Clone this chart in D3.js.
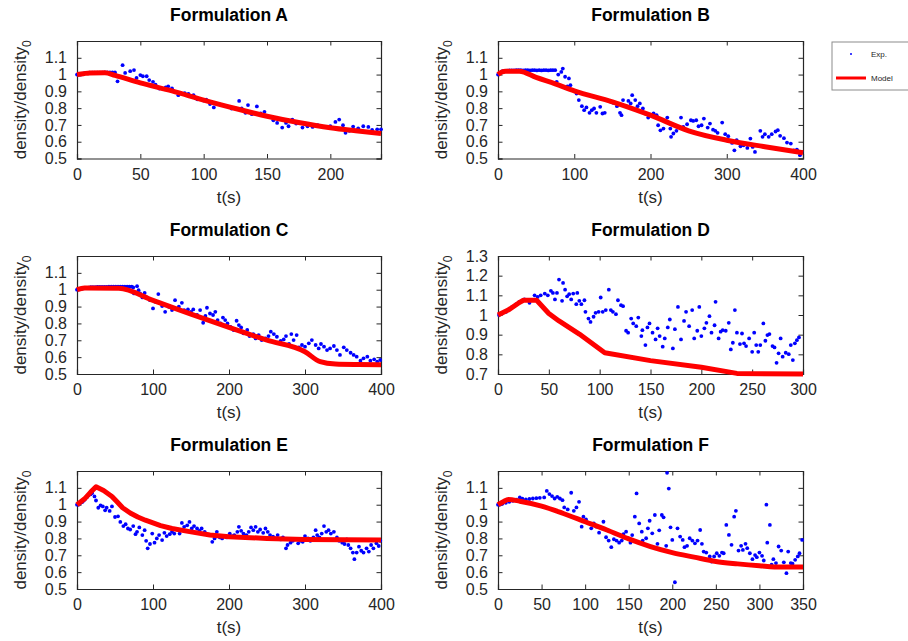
<!DOCTYPE html>
<html>
<head>
<meta charset="utf-8">
<script src="https://cdn.jsdelivr.net/npm/d3@7"></script>
<style>
  body { margin: 0; background: #fff; }
  svg { display: block; font-family: "Liberation Sans", Arial, sans-serif; }
</style>
</head>
<body>
<script>
// ---- data: [t (s), density/density0] ----
var modelA = [[0,1.0],[5,1.005],[10,1.01],[22,1.011],[30,0.995],[50,0.95],[75,0.903],[100,0.848],[125,0.798],[150,0.752],[175,0.714],[200,0.683],[220,0.665],[240,0.649]];
var expA = [[0,1.0],[1,1.0],[2,1.0],[3,1.0],[4,1.003],[5,1.005],[6,1.008],[8,1.01],[10,1.012],[12,1.012],[14,1.012],[16,1.012],[18,1.012],[20,1.012],[22,1.013],[24,1.013],[26,1.013],[28,1.013],[30,1.013],
  [32,0.96],[36,1.056],[38,1.01],[42,1.02],[45,1.027],[47,0.98],[50,0.997],[52,0.99],[55,0.99],[57,0.967],[60,0.957],[62,0.94],[65,0.917],[70,0.923],[72,0.93],[75,0.917],
  [80,0.877],[82,0.89],[85,0.89],[88,0.885],[92,0.877],[95,0.853],[100,0.845],[102,0.85],[105,0.824],[108,0.804],[112,0.824],[118,0.812],[122,0.798],[128,0.843],[130,0.798],
  [133,0.772],[135,0.818],[138,0.764],[142,0.81],[145,0.768],[148,0.778],[152,0.748],[155,0.728],[158,0.712],[162,0.684],[165,0.712],[167,0.692],[170,0.732],[173,0.708],
  [178,0.684],[182,0.692],[186,0.688],[190,0.698],[195,0.688],[200,0.692],[204,0.718],[207,0.732],[210,0.698],[212,0.653],[215,0.665],[218,0.69],[222,0.68],[226,0.692],
  [230,0.688],[233,0.67],[237,0.674],[240,0.674]];

var modelB = [[0,1.0],[5,1.015],[10,1.02],[28,1.02],[50,0.983],[75,0.945],[100,0.903],[150,0.838],[200,0.758],[250,0.665],[300,0.609],[350,0.57],[400,0.534]];
var expB = [[0,1.0],[3,1.01],[6,1.02],[9,1.022],[12,1.024],[15,1.025],[18,1.025],[21,1.025],[24,1.026],[27,1.026],[30,1.026],[33,1.025],[36,1.026],[39,1.026],[42,1.025],[45,1.026],[48,1.026],[51,1.025],[54,1.026],[57,1.025],[60,1.026],[63,1.026],[66,1.025],[69,1.026],[72,1.026],[75,1.026],
  [77,0.957],[79,1.0],[83,1.016],[85,1.036],[88,0.987],[91,0.93],[93,0.977],[95,0.937],[98,0.907],[103,0.887],[106,0.848],[110,0.812],[113,0.788],[116,0.804],[120,0.772],
  [123,0.788],[126,0.798],[129,0.772],[134,0.808],[137,0.768],[140,0.772],[148,0.838],[151,0.832],[156,0.812],[160,0.772],[162,0.758],[164,0.848],[168,0.812],[171,0.843],
  [174,0.828],[176,0.877],[180,0.848],[183,0.812],[186,0.828],[190,0.798],[193,0.768],[197,0.744],[204,0.768],[208,0.758],[210,0.698],[213,0.668],[217,0.678],[222,0.744],
  [226,0.678],[227,0.629],[230,0.649],[234,0.665],[240,0.744],[243,0.688],[248,0.704],[253,0.728],[256,0.724],[260,0.728],[263,0.692],[267,0.698],[270,0.738],[275,0.684],
  [278,0.708],[282,0.672],[285,0.665],[288,0.653],[294,0.714],[298,0.645],[302,0.633],[307,0.593],[310,0.549],[313,0.609],[318,0.573],[322,0.579],[327,0.563],[331,0.619],
  [334,0.569],[337,0.539],[344,0.665],[347,0.629],[350,0.645],[355,0.629],[359,0.645],[364,0.661],[367,0.669],[370,0.635],[375,0.621],[379,0.595],[384,0.589],[388,0.549],
  [392,0.553],[396,0.52],[398,0.539]];

var modelC = [[0,1.0],[10,1.01],[55,1.009],[100,0.937],[150,0.855],[200,0.776],[250,0.701],[300,0.632],[320,0.573],[340,0.559],[370,0.556],[400,0.555]];
var expC = [[0,1.0],[3,1.002],[6,1.005],[9,1.008],[12,1.01],[15,1.012],[18,1.015],[21,1.015],[24,1.015],[27,1.016],[30,1.016],[33,1.017],[36,1.017],[39,1.017],[42,1.018],[45,1.018],[48,1.018],[51,1.018],[54,1.018],[57,1.018],[60,1.018],[63,1.018],[66,1.018],[69,1.018],[72,1.018],
  [74,1.013],[75,0.978],[79,1.021],[81,0.997],[83,0.978],[86,0.954],[89,0.981],[92,0.954],[96,0.938],[100,0.889],[103,0.928],[107,0.974],[112,0.903],[116,0.869],[121,0.899],
  [125,0.879],[129,0.938],[134,0.899],[138,0.922],[141,0.879],[146,0.883],[150,0.869],[153,0.883],[158,0.85],[162,0.879],[166,0.804],[169,0.844],[171,0.893],[175,0.859],
  [179,0.85],[182,0.869],[185,0.82],[189,0.8],[192,0.835],[195,0.82],[198,0.8],[202,0.78],[206,0.761],[210,0.816],[213,0.79],[216,0.776],[219,0.741],[224,0.761],[227,0.725],
  [232,0.737],[235,0.711],[239,0.731],[243,0.701],[248,0.711],[252,0.725],[255,0.751],[259,0.737],[263,0.721],[268,0.697],[272,0.705],[275,0.725],[279,0.678],[282,0.737],
  [285,0.701],[289,0.731],[292,0.658],[296,0.672],[300,0.662],[305,0.682],[309,0.701],[314,0.672],[318,0.652],[321,0.678],[325,0.662],[329,0.642],[333,0.652],[338,0.666],
  [342,0.642],[346,0.613],[351,0.658],[355,0.642],[360,0.626],[364,0.613],[368,0.603],[373,0.579],[377,0.593],[382,0.603],[386,0.579],[391,0.587],[395,0.573],[399,0.583]];

var modelD = [[0,1.0],[10,1.025],[20,1.06],[25,1.075],[38,1.075],[50,1.008],[60,0.97],[80,0.903],[105,0.808],[150,0.768],[200,0.734],[235,0.703],[300,0.7]];
var expD = [[1,1.0],[4,1.008],[8,1.016],[11,1.028],[14,1.041],[18,1.055],[21,1.067],[26,1.079],[31,1.062],[36,1.1],[39,1.092],[42,1.1],[46,1.109],[49,1.1],[52,1.123],[54,1.112],
  [56,1.079],[58,1.112],[60,1.18],[63,1.072],[64,1.163],[66,1.129],[68,1.095],[70,1.106],[72,1.079],[74,1.109],[77,1.055],[78,1.112],[80,1.072],[82,1.055],[85,1.075],
  [86,1.016],[89,0.982],[91,0.965],[94,0.991],[96,1.011],[99,1.016],[101,1.089],[103,1.016],[106,1.025],[109,1.129],[111,1.025],[113,1.016],[116,1.004],[118,1.075],
  [121,1.05],[123,1.045],[126,0.92],[128,0.91],[131,0.982],[133,0.957],[136,0.943],[138,0.987],[141,0.893],[142,0.923],[145,0.847],[147,0.937],[149,0.957],[152,0.91],
  [155,0.876],[157,0.932],[159,0.893],[162,0.839],[164,0.881],[167,0.937],[169,0.977],[172,0.83],[174,0.928],[177,1.041],[180,0.876],[183,0.97],[185,1.016],[188,0.943],
  [191,1.025],[193,0.881],[196,0.92],[198,1.041],[200,0.893],[203,0.932],[205,0.96],[208,0.994],[210,0.91],[213,0.948],[214,1.067],[217,0.881],[219,0.915],[221,0.923],
  [224,0.92],[227,0.96],[229,0.825],[231,0.859],[233,1.025],[235,0.91],[238,0.852],[240,0.906],[242,0.856],[244,0.842],[247,0.881],[250,0.813],[252,0.91],[254,0.847],
  [256,0.813],[258,0.847],[261,0.957],[263,0.869],[265,0.898],[267,0.903],[270,0.842],[272,0.835],[274,0.757],[276,0.805],[278,0.881],[280,0.788],[283,0.808],[286,0.801],
  [288,0.847],[290,0.771],[292,0.856],[294,0.872],[296,0.886]];

var modelE = [[0,1.0],[10,1.035],[18,1.075],[25,1.106],[35,1.084],[46,1.049],[53,1.016],[60,0.982],[70,0.951],[80,0.927],[90,0.908],[100,0.892],[110,0.876],[125,0.859],[150,0.839],[175,0.82],[200,0.81],[250,0.8],[300,0.794],[400,0.79]];
var expE = [[0,1.0],[2,1.0],[4,1.008],[7,1.016],[9,1.025],[11,1.035],[13,1.045],[15,1.055],[18,1.062],[20,1.069],[23,1.049],[25,1.025],[28,0.982],[31,0.996],[34,0.99],[37,0.967],
  [39,0.982],[43,0.963],[46,0.99],[50,0.927],[54,0.931],[57,0.898],[61,0.873],[64,0.884],[67,0.859],[70,0.853],[74,0.873],[77,0.825],[79,0.839],[82,0.865],[86,0.82],
  [89,0.849],[91,0.786],[93,0.741],[96,0.767],[99,0.829],[102,0.775],[105,0.8],[108,0.82],[112,0.79],[115,0.833],[118,0.814],[122,0.825],[125,0.839],[128,0.829],[132,0.853],
  [135,0.829],[138,0.892],[141,0.869],[145,0.878],[148,0.898],[151,0.859],[154,0.873],[158,0.859],[161,0.845],[164,0.859],[168,0.839],[171,0.825],[175,0.82],[178,0.78],
  [181,0.8],[184,0.839],[188,0.806],[191,0.8],[194,0.814],[197,0.806],[201,0.829],[204,0.814],[207,0.82],[211,0.839],[213,0.869],[216,0.845],[219,0.829],[223,0.82],
  [226,0.839],[229,0.865],[232,0.849],[235,0.869],[238,0.839],[241,0.853],[245,0.833],[248,0.859],[251,0.839],[254,0.82],[258,0.81],[261,0.8],[264,0.82],[268,0.794],
  [271,0.806],[275,0.741],[277,0.761],[281,0.775],[284,0.786],[287,0.794],[291,0.771],[294,0.786],[297,0.78],[300,0.814],[304,0.8],[307,0.786],[311,0.806],[314,0.849],
  [316,0.82],[319,0.806],[322,0.829],[325,0.873],[328,0.839],[331,0.849],[334,0.829],[338,0.839],[342,0.806],[345,0.786],[349,0.775],[352,0.767],[355,0.794],[357,0.761],
  [360,0.741],[363,0.716],[365,0.677],[368,0.716],[371,0.751],[374,0.727],[377,0.716],[381,0.741],[384,0.722],[387,0.761],[390,0.741],[394,0.771],[397,0.755],[399,0.786]];

var modelF = [[0,1.0],[6,1.018],[12,1.031],[25,1.021],[50,0.992],[75,0.948],[100,0.899],[125,0.85],[150,0.797],[175,0.752],[200,0.716],[225,0.689],[250,0.663],[275,0.649],[300,0.638],[325,0.63],[350,0.63]];
var expF = [[0,1.0],[2,1.0],[5,1.005],[9,1.011],[13,1.017],[17,1.023],[21,1.03],[25,1.043],[28,1.036],[32,1.031],[36,1.034],[40,1.037],[44,1.039],[48,1.041],[53,1.043],
  [56,1.082],[59,1.063],[62,1.051],[65,1.037],[68,1.047],[71,1.037],[74,1.027],[76,0.984],[80,0.972],[84,1.071],[87,0.964],[90,0.984],[93,1.017],[96,0.87],[98,0.929],
  [101,0.913],[104,0.893],[107,0.86],[110,0.889],[113,0.87],[116,0.834],[119,0.86],[121,0.899],[124,0.807],[127,0.787],[130,0.748],[133,0.795],[136,0.787],[139,0.775],
  [142,0.787],[144,0.826],[147,0.84],[149,0.801],[152,0.775],[154,0.82],[157,0.929],[159,1.067],[162,0.889],[165,0.84],[166,0.787],[170,0.801],[172,0.86],[174,0.905],
  [177,0.83],[180,0.939],[183,0.768],[185,0.848],[188,0.939],[190,0.925],[193,0.756],[194,1.189],[196,1.096],[198,0.866],[200,0.791],[203,0.54],[206,0.86],[209,0.811],
  [212,0.791],[214,0.748],[217,0.756],[220,0.801],[223,0.787],[226,0.771],[229,0.787],[232,0.85],[234,0.768],[236,0.722],[239,0.716],[243,0.693],[245,0.663],[248,0.693],
  [251,0.712],[254,0.697],[257,0.716],[259,0.712],[262,0.88],[265,0.821],[268,0.762],[271,0.929],[273,0.964],[276,0.728],[279,0.756],[281,0.732],[284,0.768],[286,0.742],
  [289,0.712],[292,0.677],[295,0.701],[297,0.689],[300,0.716],[303,0.697],[305,0.669],[308,1.0],[309,0.775],[312,0.88],[314,0.644],[316,0.677],[319,0.654],[322,0.752],
  [325,0.728],[328,0.658],[331,0.594],[333,0.722],[336,0.654],[338,0.65],[341,0.673],[344,0.693],[346,0.712],[349,0.791]];

// tick labels
var yTicksStd = [0.5, 0.6, 0.7, 0.8, 0.9, 1.0, 1.1];
var yTicksD = [0.7, 0.8, 0.9, 1.0, 1.1, 1.2, 1.3];
var xTicks240 = [0, 50, 100, 150, 200];
var xTicks400 = [0, 100, 200, 300, 400];
var xTicks300 = [0, 50, 100, 150, 200, 250, 300];
var xTicks350 = [0, 50, 100, 150, 200, 250, 300, 350];
var titles = ["Formulation A", "Formulation B", "Formulation C", "Formulation D", "Formulation E", "Formulation F"];
var legendLabels = ["Exp.", "Model"];

var panels = [
  {title: titles[0], col: 0, row: 0, xMax: 240, xTicks: xTicks240, yDom: [0.5, 1.2], yTicks: yTicksStd, exp: expA, model: modelA, curve: d3.curveMonotoneX},
  {title: titles[1], col: 1, row: 0, xMax: 400, xTicks: xTicks400, yDom: [0.5, 1.2], yTicks: yTicksStd, exp: expB, model: modelB, curve: d3.curveMonotoneX},
  {title: titles[2], col: 0, row: 1, xMax: 400, xTicks: xTicks400, yDom: [0.5, 1.2], yTicks: yTicksStd, exp: expC, model: modelC, curve: d3.curveMonotoneX},
  {title: titles[3], col: 1, row: 1, xMax: 300, xTicks: xTicks300, yDom: [0.7, 1.3], yTicks: yTicksD, exp: expD, model: modelD, curve: d3.curveLinear},
  {title: titles[4], col: 0, row: 2, xMax: 400, xTicks: xTicks400, yDom: [0.5, 1.2], yTicks: yTicksStd, exp: expE, model: modelE, curve: d3.curveLinear},
  {title: titles[5], col: 1, row: 2, xMax: 350, xTicks: xTicks350, yDom: [0.5, 1.2], yTicks: yTicksStd, exp: expF, model: modelF, curve: d3.curveMonotoneX}
];

var cols = [{l: 77, r: 381}, {l: 498, r: 803}];
var rows = [{t: 41, b: 158.5}, {t: 256, b: 374}, {t: 471, b: 589}];
var axisColor = "#262626";

var svg = d3.select("body").append("svg").attr("width", 908).attr("height", 641);

var fmt = function(d) { return d3.format("~g")(+d.toFixed(2)); };

panels.forEach(function(p) {
  var c = cols[p.col], r = rows[p.row];
  var x = d3.scaleLinear().domain([0, p.xMax]).range([c.l, c.r]);
  var y = d3.scaleLinear().domain(p.yDom).range([r.b, r.t]);
  var g = svg.append("g");

  // box background
  g.append("rect").attr("x", c.l).attr("y", r.t)
    .attr("width", c.r - c.l).attr("height", r.b - r.t)
    .attr("fill", "#fff");

  // axes with inward ticks, four sides
  var tk = 4.5;
  var bottom = g.append("g").attr("transform", "translate(0," + r.b + ")")
    .call(d3.axisBottom(x).tickValues(p.xTicks).tickFormat(fmt).tickSize(-tk).tickPadding(10));
  var top = g.append("g").attr("transform", "translate(0," + r.t + ")")
    .call(d3.axisTop(x).tickValues(p.xTicks).tickFormat("").tickSize(-tk));
  var left = g.append("g").attr("transform", "translate(" + c.l + ",0)")
    .call(d3.axisLeft(y).tickValues(p.yTicks).tickFormat(fmt).tickSize(-tk).tickPadding(10));
  var right = g.append("g").attr("transform", "translate(" + c.r + ",0)")
    .call(d3.axisRight(y).tickValues(p.yTicks).tickFormat("").tickSize(-tk));
  [bottom, top, left, right].forEach(function(a) {
    a.select(".domain").attr("stroke", axisColor).attr("stroke-width", 1.2);
    a.selectAll(".tick line").attr("stroke", axisColor);
    a.selectAll(".tick text").attr("fill", axisColor).style("font-size", "16px")
      .style("font-family", "'Liberation Sans', Arial, sans-serif");
  });

  // experimental points
  g.append("g").selectAll("circle").data(p.exp).enter().append("circle")
    .attr("cx", function(d) { return x(d[0]); })
    .attr("cy", function(d) { return y(d[1]); })
    .attr("r", 1.9)
    .attr("fill", "#0000ff");

  // model line
  g.append("path").datum(p.model)
    .attr("d", d3.line().x(function(d) { return x(d[0]); }).y(function(d) { return y(d[1]); }).curve(p.curve))
    .attr("fill", "none").attr("stroke", "#ff0000").attr("stroke-width", 5)
    .attr("stroke-linejoin", "round");

  // title
  g.append("text").attr("x", (c.l + c.r) / 2).attr("y", r.t - 20)
    .attr("text-anchor", "middle").attr("font-weight", "bold")
    .attr("font-size", 17.5).attr("fill", "#000").text(p.title);

  // x label
  g.append("text").attr("x", (c.l + c.r) / 2).attr("y", r.b + 44)
    .attr("text-anchor", "middle").attr("font-size", 17).attr("fill", axisColor).text("t(s)");

  // y label with subscript
  var yl = g.append("text")
    .attr("transform", "translate(" + (c.l - 51) + "," + ((r.t + r.b) / 2) + ") rotate(-90)")
    .attr("text-anchor", "middle").attr("font-size", 17).attr("fill", axisColor);
  yl.append("tspan").text("density/density");
  yl.append("tspan").attr("dy", 5).attr("font-size", 12).text("0");
});

// legend
var lg = svg.append("g");
lg.append("rect").attr("x", 832).attr("y", 42).attr("width", 90).attr("height", 48)
  .attr("fill", "#fff").attr("stroke", "#8c8c8c").attr("stroke-width", 1);
lg.append("circle").attr("cx", 851).attr("cy", 54).attr("r", 1).attr("fill", "#0000ff");
lg.append("line").attr("x1", 836).attr("x2", 866).attr("y1", 78).attr("y2", 78)
  .attr("stroke", "#ff0000").attr("stroke-width", 3);
lg.selectAll("text.lab").data(legendLabels).enter().append("text").attr("class", "lab")
  .attr("x", 871).attr("y", function(d, i) { return i === 0 ? 57 : 81; })
  .attr("font-size", 8).attr("fill", "#262626").text(function(d) { return d; });
</script>
</body>
</html>
